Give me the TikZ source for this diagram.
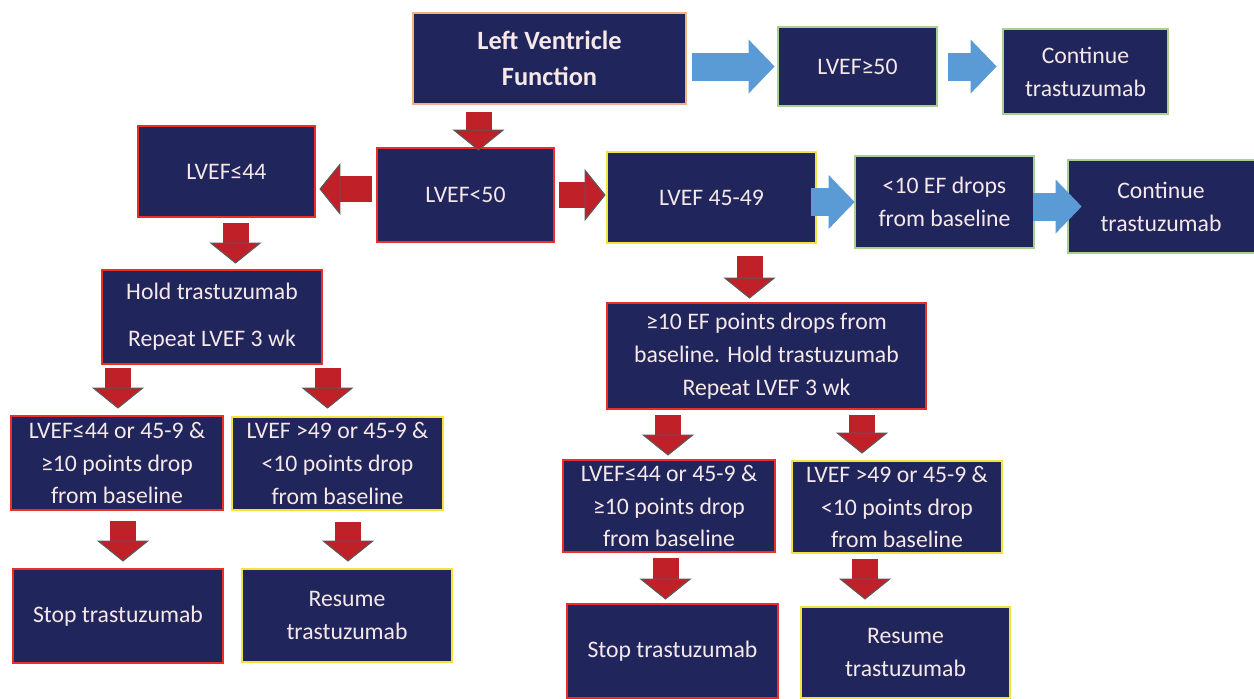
\documentclass[tikz,border=0pt]{standalone}
\usepackage{fontspec}
\setmainfont{Carlito}
\usetikzlibrary{arrows.meta,calc}
\definecolor{navy}{RGB}{32,38,92}
\definecolor{boxtext}{RGB}{246,232,232}
\definecolor{bordred}{RGB}{236,45,40}
\definecolor{bordyellow}{RGB}{242,228,60}
\definecolor{bordgreen}{RGB}{169,208,142}
\definecolor{bordorange}{RGB}{244,177,131}
\definecolor{arrred}{RGB}{192,32,40}
\definecolor{arrblue}{RGB}{91,155,213}
\tikzset{
  box/.style={draw, line width=1.6pt, fill=navy, text=boxtext, align=center,
    inner sep=0pt, font=\fontsize{13.5}{18.7}\selectfont},
  redbox/.style={box, draw=bordred},
  yellowbox/.style={box, draw=bordyellow},
  greenbox/.style={box, draw=bordgreen},
  redarrow/.style={arrred, line width=0.52cm,
    -{Triangle[width=1.04cm,length=0.42cm,line width=0.6pt,color=gray!70!black,fill=arrred]}},
  bluearrow/.style={arrblue, line width=0.56cm,
    -{Triangle[width=1.08cm,length=0.52cm,line width=0pt,fill=arrblue]}}
}
\begin{document}
\begin{tikzpicture}[x=0.02cm, y=-0.02cm]
  \useasboundingbox (0,0) rectangle (1254,698);
  \node (lvf) [box, draw=bordorange, minimum width=5.46cm, minimum height=1.82cm,
    font=\bfseries\fontsize{15}{20.4}\selectfont] at (549.5,58.5) {Left Ventricle\\Function};
  \node (ge50) [greenbox, minimum width=3.18cm, minimum height=1.58cm] at (857.5,66.5) {LVEF≥50};
  \node (cont1) [greenbox, minimum width=3.30cm, minimum height=1.70cm] at (1085.5,71.5) {Continue\\trastuzumab};
  \node (le44) [redbox, minimum width=3.54cm, minimum height=1.82cm] at (226.5,171.5) {LVEF≤44};
  \node (lt50) [redbox, minimum width=3.54cm, minimum height=1.88cm] at (465.5,195) {LVEF<50};
  \node (mid) [yellowbox, minimum width=4.18cm, minimum height=1.82cm] at (711.5,197.5) {LVEF 45-49};
  \node (small) [greenbox, minimum width=3.58cm, minimum height=1.84cm] at (944.5,202) {<10 EF drops\\from baseline};
  \node (cont2) [greenbox, minimum width=3.88cm, minimum height=1.86cm] at (1165,206.5) {\hspace*{-0.16cm}Continue\\\hspace*{-0.16cm}trastuzumab};
  \node (hold) [redbox, minimum width=4.40cm, minimum height=1.88cm] at (212,317) {Hold trastuzumab\\[0.28cm]Repeat LVEF 3 wk};
  \node (ge10) [redbox, minimum width=6.38cm, minimum height=2.12cm] at (766.5,356)
    {≥10 EF points drops from\\baseline. Hold trastuzumab\\Repeat LVEF 3 wk};
  \node (l1) [redbox, minimum width=4.24cm, minimum height=1.88cm] at (117,463)
    {LVEF≤44 or 45-9 \&\\≥10 points drop\\from baseline};
  \node (l2) [yellowbox, minimum width=4.22cm, minimum height=1.86cm] at (337.5,463.5)
    {LVEF >49 or 45-9 \&\\<10 points drop\\from baseline};
  \node (lstop) [redbox, minimum width=4.20cm, minimum height=1.88cm] at (118,616) {Stop trastuzumab};
  \node (lres) [yellowbox, minimum width=4.20cm, minimum height=1.86cm] at (347,615.5) {Resume\\trastuzumab};
  \node (r1) [redbox, minimum width=4.24cm, minimum height=1.84cm] at (669,506)
    {LVEF≤44 or 45-9 \&\\≥10 points drop\\from baseline};
  \node (r2) [yellowbox, minimum width=4.20cm, minimum height=1.84cm] at (897,507)
    {LVEF >49 or 45-9 \&\\<10 points drop\\from baseline};
  \node (rstop) [redbox, minimum width=4.22cm, minimum height=1.88cm] at (672.5,651) {Stop trastuzumab};
  \node (rres) [yellowbox, minimum width=4.18cm, minimum height=1.82cm] at (905.5,652.5) {Resume\\trastuzumab};

  \draw[bluearrow] ($(lvf.east |- ge50.west)+(5,0)$) -- ($(ge50.west)+(-2,0)$);
  \draw[bluearrow] ($(ge50.east)+(10,0)$) -- ($(ge50.east -| cont1.west)+(-5,0)$);
  \draw[bluearrow] ($(mid.east |- small.west)+(-6,0)$) -- ($(small.west)+(1,0)$);
  \draw[bluearrow] ($(small.east |- cont2.west)+(-2,0)$) -- ($(cont2.west)+(15,0)$);

  \draw[redarrow] ($(lt50.north |- lvf.south)+(13,7)$) -- ($(lt50.north)+(13,4)$);
  \draw[redarrow] ($(lt50.west)+(-4,-6)$) -- ($(lt50.west -| le44.east)+(3,-6)$);
  \draw[redarrow] ($(lt50.east)+(4,0)$) -- (lt50.east -| mid.west);
  \draw[redarrow] ($(le44.south)+(9,5)$) -- ($(le44.south |- hold.north)+(9,-5)$);
  \draw[redarrow] ($(mid.south)+(38,12)$) -- ($(mid.south |- ge10.north)+(38,-3)$);
  \draw[redarrow] ($(hold.south -| l1.north)+(1,3)$) -- ($(l1.north)+(1,-6)$);
  \draw[redarrow] ($(hold.south -| l2.north)+(-10,3)$) -- ($(l2.north)+(-10,-7)$);
  \draw[redarrow] ($(l1.south)+(6,10)$) -- ($(l1.south |- lstop.north)+(6,-6)$);
  \draw[redarrow] ($(l2.south -| lres.north)+(1,11)$) -- ($(lres.north)+(1,-6)$);
  \draw[redarrow] ($(ge10.south -| r1.north)+(-1,5)$) -- ($(r1.north)+(-1,-3)$);
  \draw[redarrow] ($(ge10.south -| r2.north)+(-35,5)$) -- ($(r2.north)+(-35,-6)$);
  \draw[redarrow] ($(r1.south -| rstop.north)+(-7,5)$) -- ($(rstop.north)+(-7,-3)$);
  \draw[redarrow] ($(r2.south)+(-32,5)$) -- ($(r2.south |- rres.north)+(-32,-6)$);
\end{tikzpicture}
\end{document}
